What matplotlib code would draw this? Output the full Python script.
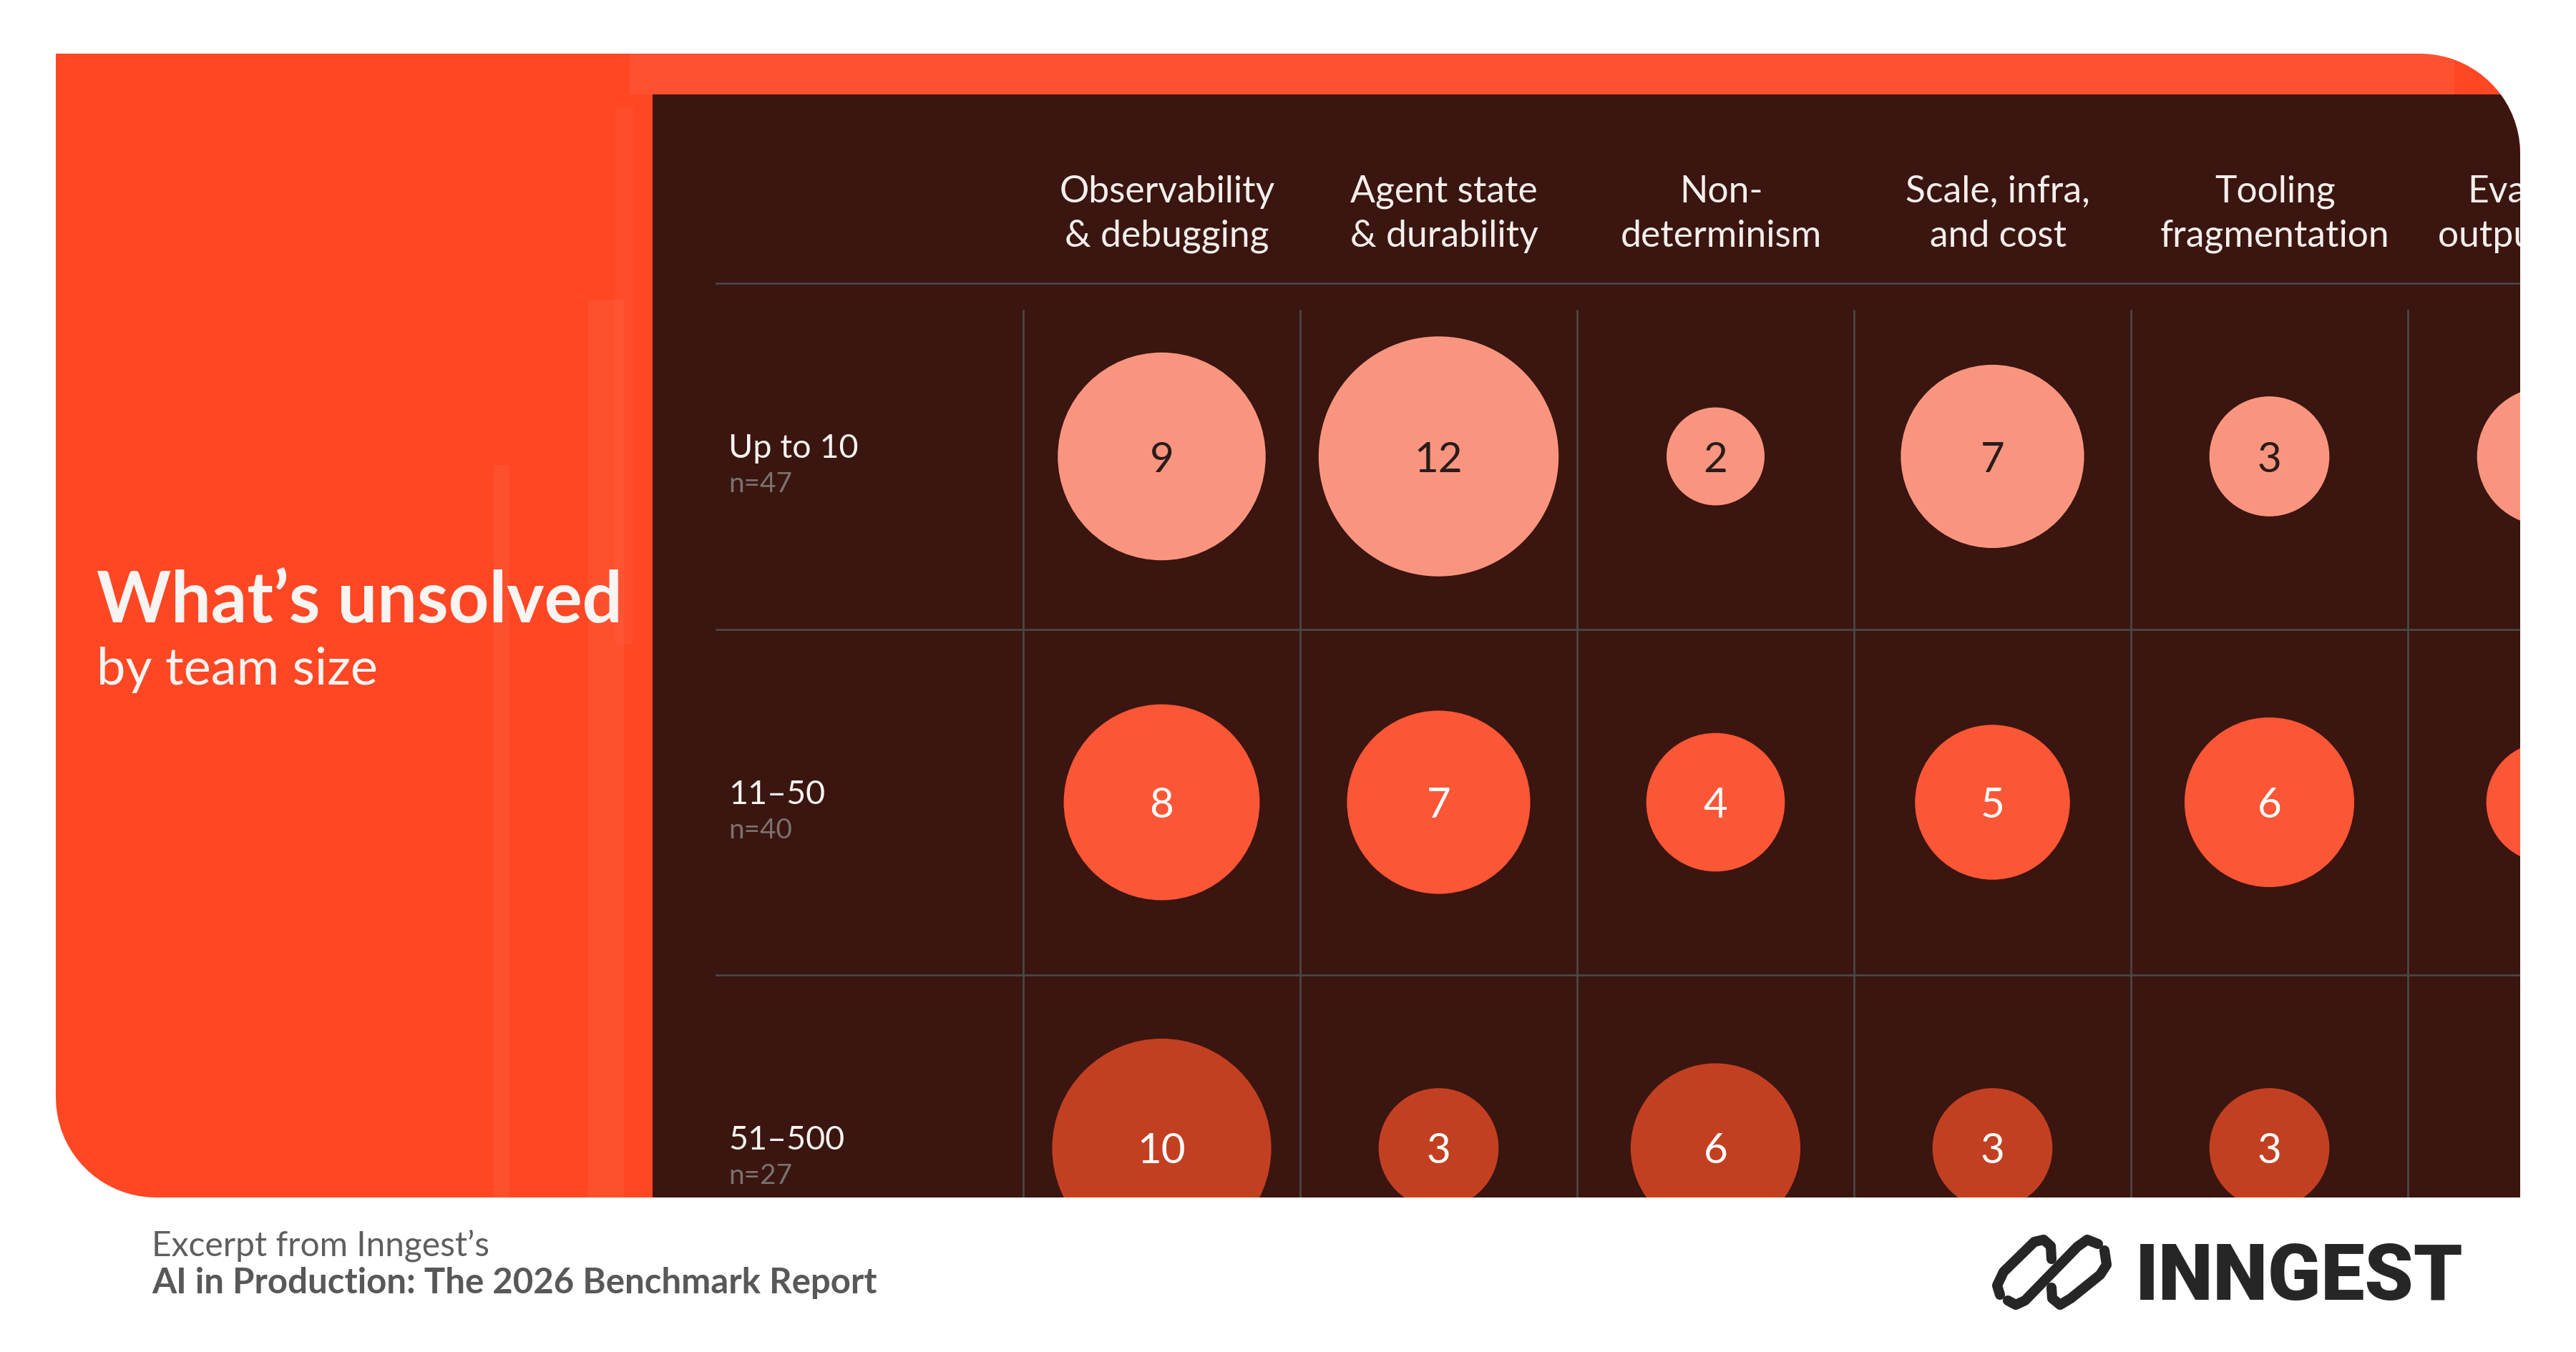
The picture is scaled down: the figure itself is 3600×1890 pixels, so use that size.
import numpy as np
import matplotlib
matplotlib.use("Agg")
import matplotlib.pyplot as plt
from matplotlib.path import Path
from matplotlib.patches import PathPatch, Rectangle

# ---------------- data ----------------
categories = ["Observability\n& debugging", "Agent state\n& durability", "Non-\ndeterminism",
              "Scale, infra,\nand cost", "Tooling\nfragmentation", "Evaluating\noutput quality"]
team_sizes = ["Up to 10", "11\u201350", "51\u2013500"]
sample_sizes = [47, 40, 27]
values_up_to_10 = [9, 12, 2, 7, 3, 4]
values_11_50 = [8, 7, 4, 5, 6, 3]
values_51_500 = [10, 3, 6, 3, 3, None]
row_values = [values_up_to_10, values_11_50, values_51_500]
row_colors = ["#F9957F", "#FB5636", "#C24021"]
num_colors = ["#2A1C1A", "#FFFFFF", "#FFFFFF"]

FONT = ["Lato", "DejaVu Sans"]
plt.rcParams["font.family"] = FONT

W, H = 3600, 1890
fig = plt.figure(figsize=(12, 6.3), dpi=300)
fig.patch.set_facecolor("white")
ax = fig.add_axes([0, 0, 1, 1])
ax.set_xlim(0, W)
ax.set_ylim(H, 0)
ax.axis("off")

# ---------------- card with rounded top-right and bottom-left corners ----------------
L, R, T, B, rad = 78, 3522, 75, 1674, 140
pts = [(L, T), (R - rad, T)]
for a in np.linspace(-np.pi / 2, 0, 20):
    pts.append((R - rad + rad * np.cos(a), T + rad + rad * np.sin(a)))
pts += [(R, B), (L + rad, B)]
for a in np.linspace(np.pi / 2, np.pi, 20):
    pts.append((L + rad + rad * np.cos(a), B - rad + rad * np.sin(a)))
pts.append((L, T))
card_path = Path(pts)
card = PathPatch(card_path, facecolor="#FF4724", edgecolor="none", zorder=1)
ax.add_patch(card)

# subtle lighter streaks on the orange panel
for x0, w, y0, y1, al in [(690, 22, 650, 1674, 0.10), (822, 50, 420, 1674, 0.10),
                          (860, 25, 150, 900, 0.07), (880, 2550, 75, 132, 0.12)]:
    s = Rectangle((x0, y0), w, y1 - y0, facecolor="#FFA08A", edgecolor="none",
                  alpha=al, zorder=1.5)
    ax.add_patch(s)
    s.set_clip_path(card)

# dark panel
dark = Rectangle((912, 132), R - 912 + 50, B - 132 + 50, facecolor="#3B150F",
                 edgecolor="none", zorder=2)
ax.add_patch(dark)
dark.set_clip_path(card)

# ---------------- title ----------------
ax.text(135, 870, "What\u2019s unsolved", fontsize=23.8, fontweight="bold",
        color="#F7F4F2", va="baseline", ha="left", zorder=5)
ax.text(135, 957, "by team size", fontsize=17.3, color="#F7F4F2",
        va="baseline", ha="left", zorder=5)

# ---------------- footer ----------------
ax.text(212, 1756, "Excerpt from Inngest\u2019s", fontsize=11.5, color="#5E5E5E",
        va="baseline", ha="left")
ax.text(212, 1808, "AI in Production: The 2026 Benchmark Report", fontsize=11.8,
        fontweight="bold", color="#585858", va="baseline", ha="left")

# ---------------- logo ----------------
ax.text(2984, 1817, "INNGEST", fontsize=26.2, fontweight="black",
        family=["Roboto", "DejaVu Sans"], color="#262626", va="baseline", ha="left")
strokes = [
    [(2867, 1760), (2866, 1742), (2856, 1733), (2843, 1736), (2800, 1778), (2791, 1797), (2795, 1810)],
    [(2806, 1818), (2817, 1824), (2830, 1818), (2903, 1743), (2917, 1733), (2932, 1739)],
    [(2941, 1748), (2944, 1768), (2935, 1782), (2894, 1815), (2879, 1824), (2868, 1815), (2867, 1800)],
]
for st in strokes:
    xs, ys = zip(*st)
    ax.plot(xs, ys, color="#262626", lw=3.4, solid_capstyle="round",
            solid_joinstyle="round", zorder=5)

# ---------------- bubble grid axes ----------------
px0, px1, py0, py1 = 912, 3522, 132, 1674
colw, rowh = 387.0, 483.5
cx0, cy0 = 1623.5, 638.0
bx = fig.add_axes([px0 / W, 1 - py1 / H, (px1 - px0) / W, (py1 - py0) / H])
bx.set_facecolor("none")
bx.set_xlim((px0 - cx0) / colw, (px1 - cx0) / colw)
bx.set_ylim((py1 - cy0) / rowh, (py0 - cy0) / rowh)
bx.axis("off")

ncol = len(categories)
nrow = len(team_sizes)
grid_c = "#4A4847"
xl = (1001 - cx0) / colw
for yb in [-0.5, 0.5, 1.5]:
    bx.plot([xl, ncol], [yb, yb], color=grid_c, lw=0.65, zorder=2, clip_on=True)
for xb in np.arange(ncol) - 0.5:
    bx.plot([xb, xb], [(434 - cy0) / rowh, nrow], color=grid_c, lw=0.65, zorder=2, clip_on=True)

# header labels
for i, cat in enumerate(categories):
    lines = cat.split("\n")
    for k, ln in enumerate(lines):
        yb = (283 + 62 * k - cy0) / rowh
        bx.text(i + 0.02, yb, ln, fontsize=12.4, color="#F3EFED", ha="center",
                va="baseline", clip_on=True, zorder=4)

# row labels
lx = (1018 - cx0) / colw
for j, (lab, n) in enumerate(zip(team_sizes, sample_sizes)):
    bx.text(lx, j + 2 / rowh, lab, fontsize=11.2, color="#F7F4F2", ha="left",
            va="baseline", zorder=4)
    bx.text(lx, j + 50 / rowh, f"n={n}", fontsize=9.3, color="#7A7270", ha="left",
            va="baseline", zorder=4)

# bubbles
for j, vals in enumerate(row_values):
    xs = [i for i, v in enumerate(vals) if v]
    vs = [v for v in vals if v]
    ys = [j] * len(xs)
    bx.scatter(xs, ys, s=[540 * v for v in vs], color=row_colors[j],
               linewidths=0, zorder=3, clip_on=True)
    for x, v in zip(xs, vs):
        bx.text(x, j, str(v), fontsize=14, color=num_colors[j], ha="center",
                va="center_baseline", clip_on=True, zorder=4)

fig.savefig("out.png", dpi=300, facecolor="white")
